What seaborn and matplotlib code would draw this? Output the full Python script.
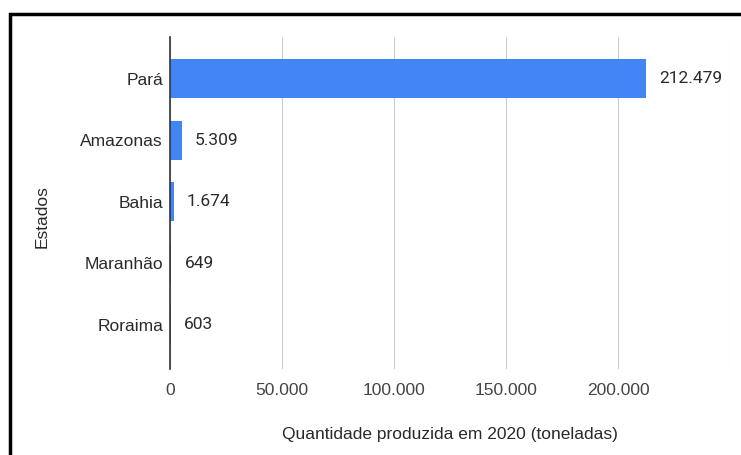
import matplotlib
matplotlib.use("Agg")
import matplotlib.pyplot as plt
import seaborn as sns
import pandas as pd
from matplotlib.patches import Rectangle

estados = ["Pará", "Amazonas", "Bahia", "Maranhão", "Roraima"]
toneladas = [212479, 5309, 1674, 649, 603]
rotulos = ["212.479", "5.309", "1.674", "649", "603"]
ticks_x = [0, 50000, 100000, 150000, 200000]
ticks_x_rotulos = ["0", "50.000", "100.000", "150.000", "200.000"]

df = pd.DataFrame({"Estado": estados, "Toneladas": toneladas})

sns.set_theme(style="white")
plt.rcParams["font.family"] = ["Liberation Sans", "DejaVu Sans"]

fig = plt.figure(figsize=(7.41, 4.55), dpi=100)
ax = fig.add_axes([170 / 741, 1 - 369 / 455, 560 / 741, 332 / 455])

sns.barplot(data=df, x="Toneladas", y="Estado", orient="h", color="#4285F4",
            saturation=1, width=0.63, ax=ax)
for p in ax.patches:
    p.set_edgecolor("none")

ax.set_xlim(0, 250000)
ax.set_ylim(4.72, -0.68)

ax.set_xticks(ticks_x + [250000])
ax.set_xticklabels(ticks_x_rotulos + [""], fontsize=12.5, color="#444444")
ax.tick_params(axis="x", length=0, pad=10)
ax.tick_params(axis="y", length=0, pad=5, labelsize=12.5, labelcolor="#2a2a2a")
ax.grid(axis="x", color="#cfcfcf", linewidth=0.8)
ax.set_axisbelow(True)

for s in ["top", "right", "bottom"]:
    ax.spines[s].set_visible(False)
ax.spines["left"].set_color("#333333")
ax.spines["left"].set_linewidth(1.2)

ax.set_xlabel("")
ax.set_ylabel("")

for i, (v, r) in enumerate(zip(toneladas, rotulos)):
    ax.annotate(r, xy=(v, i), xytext=(13, 0), textcoords="offset pixels",
                va="center", ha="left", fontsize=12.5, color="#2a2a2a",
                family=["Roboto", "DejaVu Sans"])

fig.text(450 / 741, 1 - 434 / 455, "Quantidade produzida em 2020 (toneladas)",
         ha="center", va="center", fontsize=12.5, color="#2a2a2a")
fig.text(42 / 741, 1 - 217 / 455, "Estados", rotation=90,
         ha="center", va="center", fontsize=12.5, color="#2a2a2a")

# outer frame
fig.patches.append(Rectangle((10 / 741, -0.1), 1.2, 1.1 - 14 / 455,
                             transform=fig.transFigure, fill=False,
                             edgecolor="black", linewidth=2.5))

fig.savefig("out.png", dpi=100)
